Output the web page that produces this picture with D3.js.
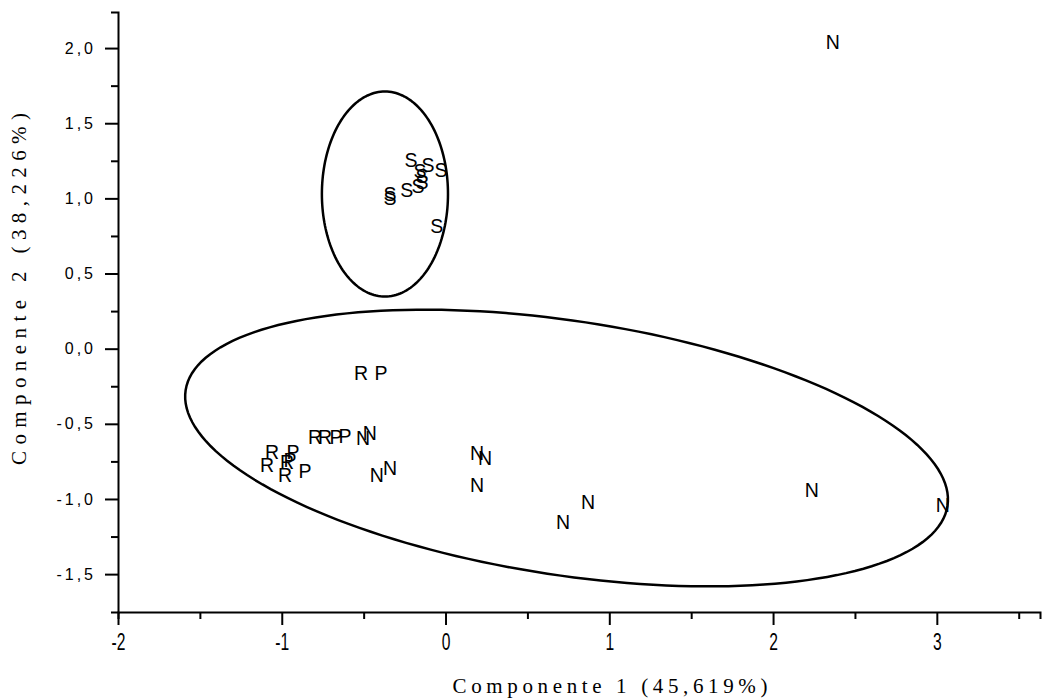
<!DOCTYPE html>
<html>
<head>
<meta charset="utf-8">
<script src="https://cdn.jsdelivr.net/npm/d3@7/dist/d3.min.js"></script>
<style>
  html, body { margin: 0; padding: 0; background: #fff; }
  svg { display: block; }
  .axis path, .axis line { stroke: #000; stroke-width: 2; }
  .ylab text { font-family: "Liberation Sans", Arial, sans-serif; font-size: 16px; letter-spacing: 3px; fill: #000; }
  .title { font-family: "Liberation Serif", "Times New Roman", serif; font-size: 21px; fill: #000; }
  .pt { font-family: "Liberation Sans", Arial, sans-serif; font-size: 19.5px; fill: #000; }
  .ell { fill: none; stroke: #000; stroke-width: 2.5; }
</style>
</head>
<body>
<svg id="chart" width="1043" height="699"></svg>
<script>
// ---- data ----
const xDomain = [-2, 3.63];
const yDomain = [-1.752, 2.24];
const xTicks = [-2, -1, 0, 1, 2, 3];
const xMinor = [-1.5, -0.5, 0.5, 1.5, 2.5, 3.5];
const yTicks = [-1.5, -1.0, -0.5, 0.0, 0.5, 1.0, 1.5, 2.0];
const yMinor = [-1.25, -0.75, -0.25, 0.25, 0.75, 1.25, 1.75];

const nX = [2.365, -0.504, -0.462, -0.419, -0.339, 0.192, 0.241, 0.192, 0.870, 0.717, 2.237, 3.037];
const nY = [2.039, -0.595, -0.562, -0.841, -0.794, -0.695, -0.728, -0.907, -1.021, -1.154, -0.941, -1.041];
const sX = [-0.211, -0.107, -0.028, -0.156, -0.144, -0.144, -0.168, -0.236, -0.339, -0.339, -0.053];
const sY = [1.255, 1.220, 1.188, 1.182, 1.148, 1.108, 1.082, 1.055, 1.029, 1.002, 0.813];
const rX = [-0.516, -0.797, -0.736, -1.059, -1.090, -0.968, -0.980];
const rY = [-0.162, -0.588, -0.588, -0.688, -0.774, -0.754, -0.841];
const pX = [-0.394, -0.669, -0.614, -0.931, -0.950, -0.858];
const pY = [-0.162, -0.588, -0.582, -0.688, -0.741, -0.814];

// ellipses: centre + two half-axis vectors, in data units
const ellSmall = [-0.370, 1.029, 0.385, 0, 0, 0.682];
const ellLarge = [0.739, -0.661, 2.326, -0.385, -0.117, -0.836];

const xTitle = 'Componente 1 (45,619%)';
const yTitle = 'Componente 2 (38,226%)';

(function () {
  const svg = d3.select('#chart');
  const margin = { top: 12, right: 3, bottom: 87, left: 118 };
  const W = 1043 - margin.left - margin.right, H = 699 - margin.top - margin.bottom;
  const g = svg.append('g').attr('transform', `translate(${margin.left},${margin.top})`);

  const x = d3.scaleLinear().domain(xDomain).range([0, W]);
  const y = d3.scaleLinear().domain(yDomain).range([H, 0]);

  // minor ticks first, majors + domain over them
  g.append('g').attr('class', 'axis').attr('transform', `translate(0,${H})`)
    .call(d3.axisBottom(x).tickValues(xMinor).tickSize(7).tickSizeOuter(0).tickFormat(''))
    .call(s => s.select('.domain').remove());
  g.append('g').attr('class', 'axis').call(d3.axisLeft(y).tickValues(yMinor).tickSize(7).tickSizeOuter(0).tickFormat(''))
    .call(s => s.select('.domain').remove());

  g.append('g').attr('class', 'axis').attr('transform', `translate(0,${H})`)
    .call(d3.axisBottom(x).tickValues(xTicks).tickSize(13).tickSizeOuter(7).tickPadding(0).tickFormat(d => String(d)))
    .call(s => s.selectAll('text')
      .style('font-family', '"Liberation Sans", Arial, sans-serif').style('font-size', '23px').style('fill', '#000')
      .attr('y', 0).attr('dy', 0)
      .attr('transform', 'translate(0,38) scale(0.68,1)'));
  g.append('g').attr('class', 'axis ylab')
    .call(d3.axisLeft(y).tickValues(yTicks).tickSize(13).tickSizeOuter(7).tickPadding(9)
      .tickFormat(d => d.toFixed(1).replace('.', ',')));

  // ellipses
  const line = d3.line().x(d => x(d[0])).y(d => y(d[1])).curve(d3.curveLinearClosed);
  const ellPts = e => d3.range(0, 360, 2).map(a => {
    const t = a * Math.PI / 180, c = Math.cos(t), s = Math.sin(t);
    return [e[0] + e[2] * c + e[4] * s, e[1] + e[3] * c + e[5] * s];
  });
  [ellSmall, ellLarge].forEach(e => g.append('path').attr('class', 'ell').attr('d', line(ellPts(e))));

  // letter markers
  const groups = [['N', nX, nY], ['S', sX, sY], ['R', rX, rY], ['P', pX, pY]];
  groups.forEach(([lab, xs, ys]) => {
    g.selectAll(null).data(xs.map((v, i) => [v, ys[i]])).enter().append('text')
      .attr('class', 'pt').attr('x', d => x(d[0])).attr('y', d => y(d[1]))
      .attr('text-anchor', 'middle').attr('dy', '0.36em').text(lab);
  });

  // axis titles
  svg.append('text').attr('class', 'title').attr('x', 610).attr('y', 693)
    .attr('text-anchor', 'middle').attr('textLength', 315).attr('lengthAdjust', 'spacing').text(xTitle);
  svg.append('text').attr('class', 'title').attr('transform', 'translate(26,289) rotate(-90)')
    .attr('text-anchor', 'middle').attr('textLength', 352).attr('lengthAdjust', 'spacing').text(yTitle);
})();
</script>
</body>
</html>
